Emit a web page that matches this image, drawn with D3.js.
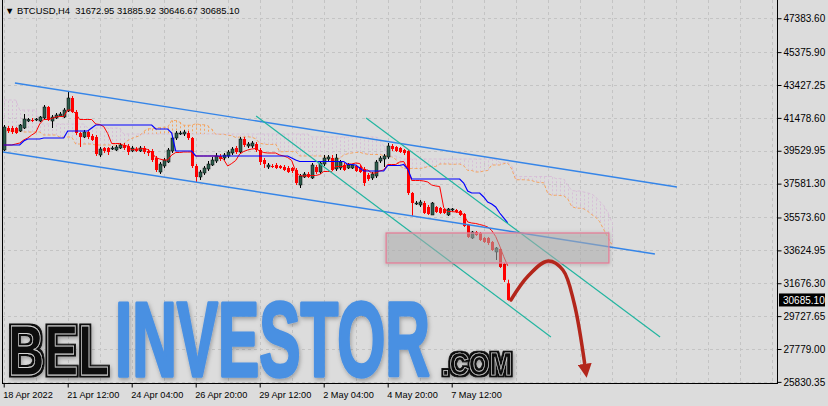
<!DOCTYPE html>
<html>
<head>
<meta charset="utf-8">
<script src="https://cdn.jsdelivr.net/npm/d3@7"></script>
<style>
  html, body { margin: 0; padding: 0; background: #dcdcdc; }
  svg { display: block; }
  text { font-family: "Liberation Sans", "DejaVu Sans", sans-serif; }
</style>
</head>
<body>
<svg id="chart" width="828" height="406"></svg>
<script>
// BTCUSD H4 candles, left to right
const opens = [39574,40878,40878,40878,40700,40878,41293,41352,41352,41293,
  41471,42123,41293,41471,41589,41530,41886,42656,41826,40582,
  40345,40641,40404,40345,39278,39693,39693,39633,39574,39693,
  39871,39811,39515,39633,39515,39693,39515,39515,39100,38270,
  38626,38863,39515,40285,40523,40523,40582,40285,38626,37974,
  38211,38448,38685,38922,39219,39100,39219,39396,39693,39456,
  40226,39811,39811,39930,39574,38982,38567,38626,38685,38626,
  38567,38507,38507,38389,37500,37974,38152,37915,38567,38270,
  38744,39041,39100,38448,38507,38685,38507,38507,38626,38567,
  38448,38093,37915,38033,38922,39041,39159,39811,39752,39693,
  39574,39515,37026,36374,36315,36433,36196,35722,36196,36137,
  36078,35722,36018,36018,35959,35781,35129,34359,34714,34655,
  34359,34359,34122,33529,33707,32818,31672.95];
const highs = [41056,40997,40997,40937,41115,41708,41471,41471,41471,41589,
  42241,42182,41649,41767,41826,42064,43012,42775,41945,40641,
  40760,40760,40523,40463,39752,39752,39752,39811,39871,39989,
  39989,39930,39811,39752,39811,39811,39633,39633,39219,38863,
  39100,39693,40404,40700,40700,40760,40700,40345,38744,38389,
  38626,38922,39159,39396,39337,39396,39574,39752,39811,40345,
  40345,40048,40108,40048,39693,39100,38804,38744,38804,38685,
  38685,38626,38567,38507,38152,38270,38270,38804,38685,38922,
  39278,39278,39278,39337,38982,38804,38804,38744,38685,38685,
  38567,38211,38270,38982,39219,39337,39989,39930,39811,39752,
  39633,39574,37085,36552,36611,36552,36315,36492,36255,36196,
  36137,36137,36137,36078,36018,35840,35189,34774,34774,34714,
  34418,34418,34181,33825,33766,32877,31885.92];
const lows = [39515,40582,40523,40523,40641,40819,41234,41234,41293,41234,
  41411,41293,40878,41411,41530,41471,41826,41767,40463,39752,
  40285,40226,40108,39219,39159,39396,39278,39574,39515,39633,
  39574,39278,39456,39456,39456,39337,39219,38863,38270,38152,
  38507,38804,39396,40167,40463,40404,40167,38507,37678,37796,
  38093,38330,38626,38804,38922,38982,39100,39278,39337,39337,
  39752,39693,39693,39456,38685,38507,38448,38507,38448,38448,
  38330,38211,38211,37500,37322,37915,37915,37855,38152,38152,
  38626,38922,38330,38330,38389,38330,38448,38448,38270,38211,
  37441,37737,37796,37915,38804,38567,39041,39515,39456,39396,
  39278,36907,35663,36315,36196,35781,35722,35722,35840,35781,
  35781,35663,35959,35840,35663,35011,34359,34300,34477,34181,
  34063,33944,33588,33055,32581,31751,30646.67];
const closes = [40937,40700,40641,40582,41056,41411,41380,41320,41411,41530,
  42123,41352,41530,41649,41708,41945,42656,41826,40582,40345,
  40641,40345,40167,39337,39633,39515,39456,39693,39752,39871,
  39693,39456,39693,39515,39693,39456,39396,38982,38389,38744,
  38982,39574,40285,40582,40582,40641,40285,38626,37974,38270,
  38507,38744,38982,39219,39041,39278,39456,39633,39456,40226,
  39871,39930,39989,39574,38863,38744,38685,38620,38507,38507,
  38389,38270,38330,37618,38033,38152,37974,38685,38270,38804,
  39100,39159,38389,39100,38863,38389,38685,38685,38330,38270,
  37618,37855,38152,38863,39100,39219,39811,39633,39515,39456,
  39396,37026,36433,36433,36492,35840,35781,36433,35900,35840,
  35840,36078,36078,35900,35722,35070,34418,34714,34537,34240,
  34122,34063,33647,33766,32640,31870,30685.10];

// Ichimoku lines
const tenkan = [39871,39871,39871,39930,39989,40167,40285,40463,40612,41115,
  41382,41382,41441,41530,41560,41560,41945,41945,41737,41382,
  41382,41382,41382,41115,41086,40967,40552,39960,39960,39960,
  39841,39811,39574,39633,39633,39663,39604,39426,39130,39041,
  38982,38982,39278,39426,39426,39456,39456,39456,39219,39219,
  39219,39219,39219,39219,39189,39011,38626,38774,38952,39337,
  39485,39574,39633,39663,39515,39426,39396,39396,39396,39278,
  39219,39130,38952,38300,38063,38033,38063,38063,38063,38122,
  38300,38300,38300,38597,38597,38597,38744,38744,38804,38774,
  38389,38389,38211,38211,38330,38389,38715,38715,38715,38863,
  38893,38448,37766,37766,37766,37737,37678,37500,37441,37411,
  36166,35928,35928,35899,35869,35751,35307,35247,35218,35158,
  35099,35010,34803,34447,33884,33262,32714];
const kijun = [39871,39871,39871,39871,39871,40108,40226,40226,40226,40226,
  40285,40285,40285,40285,40285,40285,40700,40700,40700,40700,
  40700,40700,40878,41056,41056,41056,41056,41056,41056,41056,
  41056,41056,41056,41056,41056,41056,41056,41056,40819,40819,
  40819,40819,40582,39515,39515,39515,39515,39515,39219,39219,
  39219,39219,39219,39219,39219,39219,39219,39219,39219,39219,
  39219,39219,39219,39219,39219,39219,39219,39219,39219,39219,
  39219,39219,39100,38982,38893,38893,38893,38893,38893,38893,
  38893,38893,38893,38893,38893,38893,38715,38715,38685,38507,
  38330,38330,38330,38330,38330,38330,38656,38656,38656,38656,
  38715,38448,37855,37855,37855,37855,37855,37855,37855,37855,
  37855,37855,37855,37855,37855,37618,37144,37026,37026,37026,
  36789,36492,36374,36196,35840,35544,35248];
// leading part of the cloud (before the visible bars can feed it)
const spanAHead = [40700,40700,40700,40700,40700,40641,40641,40641,40641,40641,
  40463,40463,40463,40463,40345,40345,40345,40345,39930,39930,
  39930,39930,39930,39871,39871,39871];
const spanBHead = [42538,42538,42538,42538,41945,41945,41945,41945,41945,41115,
  41115,41115,41115,41115,41115,41115,41115,41115,41115,41115,
  41115,40878,40878,40878,40878,40878,40878,40878,40878,40878,
  40523,40523,40523,40523,40523,40523,40523,40523,40523,40523,
  40523,40523,40523,40523,40523,40523,40523,40523,40523,40523,
  40523,40523,40523,40523,40523,40523,40523,40523,40523,40523,
  40523,40523,40523,40523,40523,40523,40523,40523,40523,40523,
  40523,40523,40523,40523,40523,40523,40523];

const priceTicks = [47383.60,45375.90,43427.25,41478.60,39529.95,37581.30,
  35573.60,33624.95,31676.30,29727.65,27779.00,25830.35];
const timeTicks = [0,16,32,48,64,80,96,112];
const timeLabels = ["18 Apr 2022","21 Apr 12:00","24 Apr 04:00","26 Apr 20:00",
  "29 Apr 12:00","2 May 04:00","4 May 20:00","7 May 12:00"];
const lastPrice = 30685.10;
const header = "\u25BC BTCUSD,H4  31672.95 31885.92 30646.67 30685.10";

// drawn objects: [bar index, price]
const channelTop = [[2.8,43546],[168.3,37382]];
const channelBottom = [[-0.9,39486],[162.8,33410]];
const tealA = [[63.1,41590],[136.8,28491]];
const tealB = [[90.6,41471],[164.1,28491]];
const zone = {i0:95.6, i1:151.3, p0:34655, p1:32877};
const arrowPath = [[126.8,30684],[131.1,32106],[136.1,33001],[139.8,32462],[142.6,30507],[145.4,26650]];

const svg = d3.select("#chart");
const W = 828, H = 406;
const plot = {l:2, r:777, t:0, b:383};

const x = d3.scaleLinear().domain([0,126]).range([3.7,507.7]);
const y = d3.scaleLinear().domain([27779.00,43427.25]).range([349,85]);

svg.append("rect").attr("width",W).attr("height",H).attr("fill","#dcdcdc");

const defs = svg.append("defs");
defs.append("clipPath").attr("id","plotclip").append("rect")
  .attr("x",plot.l+1).attr("y",plot.t).attr("width",plot.r-plot.l-1).attr("height",plot.b-plot.t);
const sh = defs.append("filter").attr("id","shadow").attr("x","-10%").attr("y","-10%").attr("width","130%").attr("height","140%");
sh.append("feDropShadow").attr("dx",1).attr("dy",2).attr("stdDeviation",2).attr("flood-color","#000").attr("flood-opacity",0.3);
// black outline + shadow for the inline letters
const inl = defs.append("filter").attr("id","inline").attr("x","-10%").attr("y","-20%").attr("width","130%").attr("height","150%");
inl.append("feMorphology").attr("in","SourceAlpha").attr("operator","dilate").attr("radius",2.4).attr("result","fat");
inl.append("feFlood").attr("flood-color","#111").attr("result","ink");
inl.append("feComposite").attr("in","ink").attr("in2","fat").attr("operator","in").attr("result","outer");
inl.append("feGaussianBlur").attr("in","fat").attr("stdDeviation",2).attr("result","blur");
inl.append("feOffset").attr("in","blur").attr("dx",1).attr("dy",2).attr("result","off");
inl.append("feFlood").attr("flood-color","#000").attr("flood-opacity",0.3).attr("result","sc");
inl.append("feComposite").attr("in","sc").attr("in2","off").attr("operator","in").attr("result","shad");
const mg = inl.append("feMerge");
mg.append("feMergeNode").attr("in","shad");
mg.append("feMergeNode").attr("in","outer");
mg.append("feMergeNode").attr("in","SourceGraphic");
const sh2 = defs.append("filter").attr("id","boxshadow").attr("x","-10%").attr("y","-30%").attr("width","120%").attr("height","160%");
sh2.append("feDropShadow").attr("dx",0).attr("dy",1).attr("stdDeviation",2).attr("flood-color","#000").attr("flood-opacity",0.25);
defs.append("marker").attr("id","arrowhead").attr("viewBox","0 0 10 10")
  .attr("refX",3).attr("refY",5).attr("markerWidth",4).attr("markerHeight",4)
  .attr("orient","auto").attr("markerUnits","strokeWidth")
  .append("path").attr("d","M0,0 L10,5 L0,10 z").attr("fill","#b3261b");

const g = svg.append("g").attr("clip-path","url(#plotclip)");

// grid
g.append("g").selectAll("line").data(priceTicks).join("line")
  .attr("x1",plot.l).attr("x2",plot.r)
  .attr("y1",d => Math.round(y(d))+0.5).attr("y2",d => Math.round(y(d))+0.5)
  .attr("stroke","#c4c4c4").attr("stroke-dasharray","3,3");
const vgrid = d3.range(0,200,8);
g.append("g").selectAll("line").data(vgrid).join("line")
  .attr("x1",d => Math.round(x(d))+0.5).attr("x2",d => Math.round(x(d))+0.5)
  .attr("y1",plot.t).attr("y2",plot.b)
  .attr("stroke","#c4c4c4").attr("stroke-dasharray","3,3");

// cloud: span A = (tenkan+kijun)/2 shifted 26, span B = 52 bar midpoint shifted 26
const n = closes.length;
const spanA = spanAHead.slice();
for (let k = 0; k < n; k++) spanA.push((tenkan[k]+kijun[k])/2);
const spanB = spanBHead.slice();
for (let k = 51; k < n; k++) {
  const hi = d3.max(highs.slice(k-51,k+1)), lo = d3.min(lows.slice(k-51,k+1));
  spanB.push((hi+lo)/2);
}
const cloud = spanA.map((a,j) => ({j, a, b: spanB[j]}));
g.append("g").selectAll("line").data(cloud).join("line")
  .attr("x1",d => Math.round(x(d.j))+0.5).attr("x2",d => Math.round(x(d.j))+0.5)
  .attr("y1",d => y(d.a)).attr("y2",d => y(d.b))
  .attr("stroke",d => d.a > d.b ? "#f4a460" : "#d8bfd8")
  .attr("stroke-dasharray","2,2").attr("stroke-width",1);
const lineIdx = d3.line().x(d => x(d[0])).y(d => y(d[1]));
g.append("path").attr("d",lineIdx(spanA.map((v,j)=>[j,v])))
  .attr("fill","none").attr("stroke","#f4a460").attr("stroke-dasharray","3,2");
g.append("path").attr("d",lineIdx(spanB.map((v,j)=>[j,v])))
  .attr("fill","none").attr("stroke","#d8bfd8").attr("stroke-dasharray","3,2");

// candles
const bars = d3.range(n).map(i => ({i, o:opens[i], h:highs[i], l:lows[i], c:closes[i]}));
const cg = g.append("g");
cg.selectAll("line").data(bars).join("line")
  .attr("x1",d => Math.round(x(d.i))+0.5).attr("x2",d => Math.round(x(d.i))+0.5)
  .attr("y1",d => y(d.h)).attr("y2",d => y(d.l))
  .attr("stroke",d => d.c >= d.o ? "#000" : "#ff0000");
cg.selectAll("rect").data(bars).join("rect")
  .attr("x",d => Math.round(x(d.i))-1).attr("width",3)
  .attr("y",d => y(Math.max(d.o,d.c)))
  .attr("height",d => Math.max(1, y(Math.min(d.o,d.c)) - y(Math.max(d.o,d.c))))
  .attr("fill",d => d.c >= d.o ? "#2e5e4e" : "#ff0000")
  .attr("stroke",d => d.c >= d.o ? "#000" : "none").attr("stroke-width",0.5);

// tenkan / kijun
g.append("path").attr("d",lineIdx(tenkan.map((v,i)=>[i,v])))
  .attr("fill","none").attr("stroke","#ff0000").attr("stroke-width",1);
g.append("path").attr("d",lineIdx(kijun.map((v,i)=>[i,v])))
  .attr("fill","none").attr("stroke","#0000ff").attr("stroke-width",1.2);

// trend lines
[channelTop, channelBottom].forEach(seg => {
  g.append("path").attr("d",lineIdx(seg)).attr("stroke","#3585e8").attr("stroke-width",1.4).attr("fill","none");
});
[tealA, tealB].forEach(seg => {
  g.append("path").attr("d",lineIdx(seg)).attr("stroke","#22b5a0").attr("stroke-width",1.2).attr("fill","none");
});

// zone rectangle
g.append("rect")
  .attr("x",x(zone.i0)).attr("y",y(zone.p0))
  .attr("width",x(zone.i1)-x(zone.i0)).attr("height",y(zone.p1)-y(zone.p0))
  .attr("fill","#b4b4b4").attr("fill-opacity",0.5)
  .attr("stroke","#e47f98").attr("stroke-width",1.3)
  .attr("filter","url(#boxshadow)");

// logo
const logo = svg.append("g").attr("clip-path","url(#plotclip)");
const narrow = "'Liberation Sans Narrow','DejaVu Sans Condensed','Liberation Sans',sans-serif";
logo.append("text").attr("x",8).attr("y",375).text("BEL")
  .attr("font-family",narrow).attr("font-weight","bold").attr("font-size",71)
  .attr("textLength",101).attr("lengthAdjust","spacingAndGlyphs")
  .attr("fill","#111").attr("stroke","#d4d4d4").attr("stroke-width",0.9)
  .attr("filter","url(#inline)");
logo.append("text").attr("x",115).attr("y",376).text("INVESTOR")
  .attr("font-family",narrow).attr("font-weight","bold").attr("font-size",105)
  .attr("textLength",315).attr("lengthAdjust","spacingAndGlyphs")
  .attr("fill","#4a90e2").attr("stroke","#4a90e2").attr("stroke-width",3.5)
  .attr("stroke-linejoin","round").attr("filter","url(#shadow)");
logo.append("text").attr("x",442).attr("y",375).text(".COM")
  .attr("font-family",narrow).attr("font-weight","bold").attr("font-size",32)
  .attr("textLength",70).attr("lengthAdjust","spacingAndGlyphs")
  .attr("fill","#111").attr("stroke","#d4d4d4").attr("stroke-width",0.7)
  .attr("filter","url(#inline)");

// forecast arrow
g.append("path").attr("d",d3.line().x(d=>x(d[0])).y(d=>y(d[1])).curve(d3.curveCatmullRom)(arrowPath))
  .attr("fill","none").attr("stroke","#b3261b").attr("stroke-width",3.5)
  .attr("stroke-linecap","round").attr("marker-end","url(#arrowhead)");

// frame and axes
svg.append("line").attr("x1",plot.l+0.5).attr("x2",plot.l+0.5).attr("y1",0).attr("y2",plot.b)
  .attr("stroke","#000");
const ya = svg.append("g").attr("transform",`translate(${plot.r+0.5},0)`)
  .call(d3.axisRight(y).tickValues(priceTicks).tickFormat(d3.format(".2f")).tickSize(4).tickSizeOuter(0));
ya.select(".domain").attr("d",`M0,0V${plot.b}`).attr("stroke","#000");
ya.selectAll(".tick line").attr("stroke","#000");
ya.selectAll(".tick text").attr("x",6).attr("font-size",10).attr("fill","#000")
  .attr("font-family","'Liberation Sans',sans-serif");

const xa = svg.append("g").attr("transform",`translate(0,${plot.b+0.5})`)
  .call(d3.axisBottom(x).tickValues(timeTicks).tickFormat((d,i)=>timeLabels[i]).tickSize(4).tickSizeOuter(0));
xa.select(".domain").attr("d",`M${plot.l},0H${plot.r+1}`).attr("stroke","#000");
xa.selectAll(".tick line").attr("stroke","#000");
xa.selectAll(".tick text").attr("text-anchor","start").attr("x",-1).attr("y",8)
  .attr("font-size",9.2).attr("fill","#000").attr("font-family","'Liberation Sans',sans-serif");

// last price tag
const lp = svg.append("g").attr("transform",`translate(${plot.r+2},${y(lastPrice)})`);
lp.append("rect").attr("x",0).attr("y",-6.5).attr("width",46).attr("height",13).attr("fill","#000");
lp.append("text").attr("x",4).attr("y",4).text(d3.format(".2f")(lastPrice))
  .attr("fill","#fff").attr("font-size",10);

// header
svg.append("text").attr("x",5).attr("y",14).text(header)
  .attr("font-size",9.4).attr("fill","#000").style("white-space","pre");
</script>
</body>
</html>
